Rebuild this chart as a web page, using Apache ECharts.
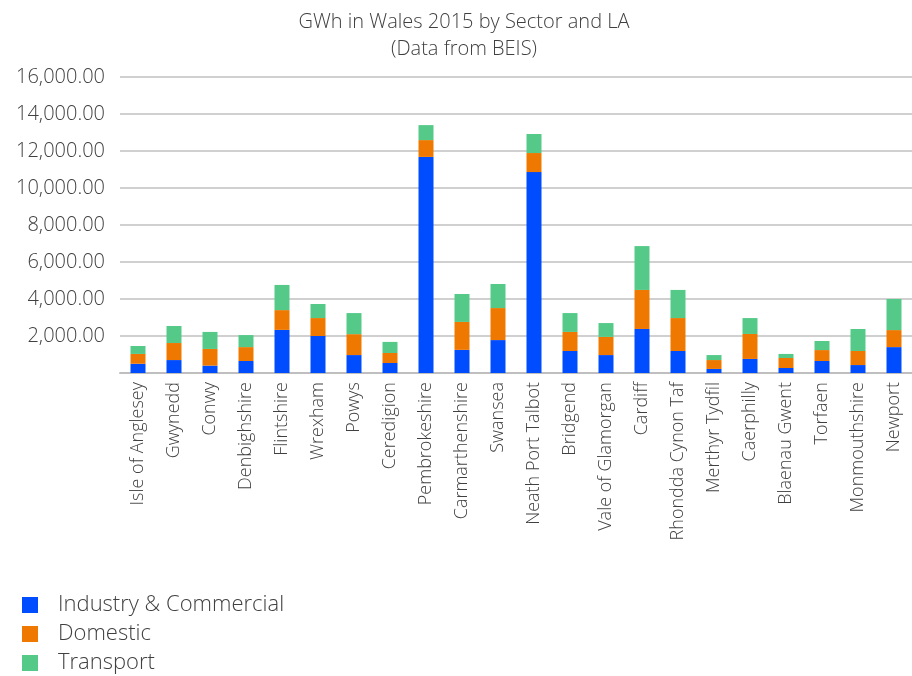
<!DOCTYPE html>
<html><head><meta charset="utf-8">
<script src="https://cdn.jsdelivr.net/npm/echarts@6/dist/echarts.min.js"></script>
<style>html,body{margin:0;padding:0;background:#fff}#c{width:912px;height:676px}</style>
</head><body><div id="c"></div>
<script>
const categories = ["Isle of Anglesey","Gwynedd","Conwy","Denbighshire","Flintshire","Wrexham","Powys","Ceredigion","Pembrokeshire","Carmarthenshire","Swansea","Neath Port Talbot","Bridgend","Vale of Glamorgan","Cardiff","Rhondda Cynon Taf","Merthyr Tydfil","Caerphilly","Blaenau Gwent","Torfaen","Monmouthshire","Newport"];
const industry = [500,700,400,650,2330,2000,970,540,11680,1250,1780,10860,1190,970,2380,1190,220,760,270,650,430,1400];
const domestic = [530,920,900,750,1070,970,1130,540,910,1510,1730,1030,1030,980,2110,1780,480,1350,540,590,760,920];
const transport = [430,920,920,650,1360,760,1140,600,810,1510,1300,1030,1020,750,2370,1520,270,860,220,490,1190,1680];
const seriesNames = ["Industry & Commercial","Domestic","Transport"];
const yTicks = {min:0, max:16000, interval:2000};

const font = '"Open Sans", Lato, sans-serif';
const chart = echarts.init(document.getElementById('c'));
const colors = ['#004CFF','#EF7800','#55CA88'];
const legendTops = [594, 623, 652];
chart.setOption({
  animation:false,
  color: colors,
  title:{text:'GWh in Wales 2015 by Sector and LA\n(Data from BEIS)', left:459, textAlign:'center', top:4,
    textStyle:{fontFamily:font, fontWeight:300, fontSize:20, color:'#404040', lineHeight:27}},
  legend: seriesNames.map((n,i)=>({orient:'vertical', left:22, top:legendTops[i], padding:0,
    itemWidth:16, itemHeight:16, icon:'rect',
    textStyle:{fontFamily:font, fontWeight:300, fontSize:22, color:'#404040', padding:[0,0,0,15]},
    data:[n]})),
  grid:{left:120, top:77, width:797, height:296, containLabel:false},
  xAxis:{type:'category', data:categories,
    axisLine:{show:true, lineStyle:{color:'#bfbfbf', width:2}},
    axisTick:{show:false},
    axisLabel:{rotate:90, fontFamily:font, fontWeight:300, fontSize:18, color:'#404040', margin:9, interval:0}},
  yAxis:{type:'value', min:yTicks.min, max:yTicks.max, interval:yTicks.interval,
    axisLine:{show:false}, axisTick:{show:false},
    splitLine:{lineStyle:{color:'#c0c0c0', width:1.5}},
    axisLabel:{fontFamily:font, fontWeight:300, fontSize:20, color:'#404040', margin:15,
      formatter: v => v===0 ? '' : v.toLocaleString('en-US',{minimumFractionDigits:2, maximumFractionDigits:2})}},
  series:[
    {name:seriesNames[0], type:'bar', stack:'s', barWidth:15, data:industry},
    {name:seriesNames[1], type:'bar', stack:'s', barWidth:15, data:domestic},
    {name:seriesNames[2], type:'bar', stack:'s', barWidth:15, data:transport}
  ]
});
</script></body></html>
